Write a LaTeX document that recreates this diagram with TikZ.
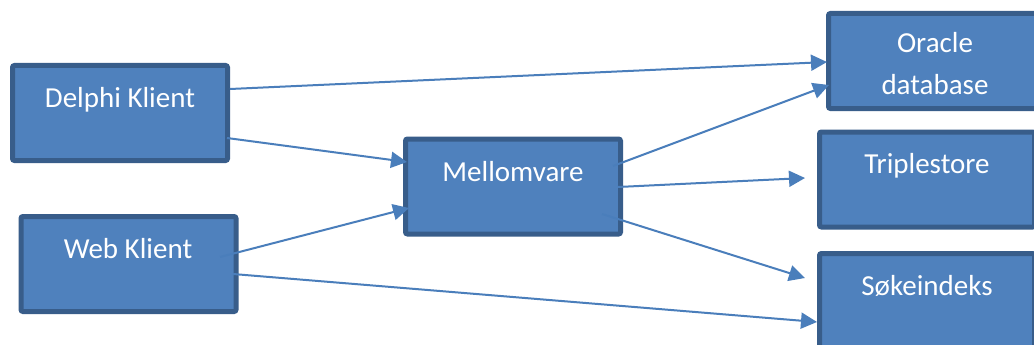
\documentclass[tikz,border=0pt]{standalone}
\usepackage{fontspec}
\setmainfont{Carlito}
\usetikzlibrary{calc,arrows.meta}
\definecolor{boxfill}{HTML}{4F81BD}
\definecolor{boxline}{HTML}{385D8A}
\definecolor{conn}{HTML}{4A7EBB}
\begin{document}
\begin{tikzpicture}[x=1pt,y=-1pt,
  box/.style={draw=boxline,fill=boxfill,line width=5pt,rounded corners=2pt,
    minimum width=215pt,minimum height=95pt,inner sep=0pt},
  lbl/.style={text=white,font=\fontsize{29}{42}\selectfont,anchor=base,align=center,inner sep=0pt},
  conn/.style={draw=conn,line width=2pt,-{Triangle[length=16pt,width=16pt]}}]
\useasboundingbox[fill=white] (0,0) rectangle (1034,345);
\node[box] (delphi) at (120,113) {};
\node[box] (web) at (128.5,264) {};
\node[box] (mellom) at (513,186.5) {};
\node[box] (oracle) at (936,61) {};
\node[box] (triple) at (927,179.5) {};
\node[box] (sok) at (927,301) {};
\node[lbl] (delphitxt) at (120,107) {Delphi Klient};
\node[lbl] (webtxt) at (128,258) {Web Klient};
\node[lbl] (mellomtxt) at (513,181) {Mellomvare};
\node[lbl] (oracletxt) at (935,95) {Oracle\\database};
\node[lbl] (tripletxt) at (927,173) {Triplestore};
\node[lbl] (soktxt) at (927,295) {Søkeindeks};
\draw[conn] ($(delphi.center)+(110,-24)$) -- ($(oracle.center)+(-109,1)$);
\draw[conn] ($(delphi.center)+(107,25)$) -- ($(mellom.center)+(-106,-24.5)$);
\draw[conn] ($(web.center)+(91.5,-7)$) -- ($(mellom.center)+(-104,21.5)$);
\draw[conn] ($(web.center)+(104.5,10)$) -- ($(sok.center)+(-110,21)$);
\draw[conn] ($(mellom.center)+(100,-20.5)$) -- ($(oracle.center)+(-107,24)$);
\draw[conn] ($(mellom.center)+(105,0.5)$) -- ($(triple.center)+(-122,-1.5)$);
\draw[conn] ($(mellom.center)+(89,27.5)$) -- ($(sok.center)+(-122,-23)$);
\end{tikzpicture}
\end{document}
